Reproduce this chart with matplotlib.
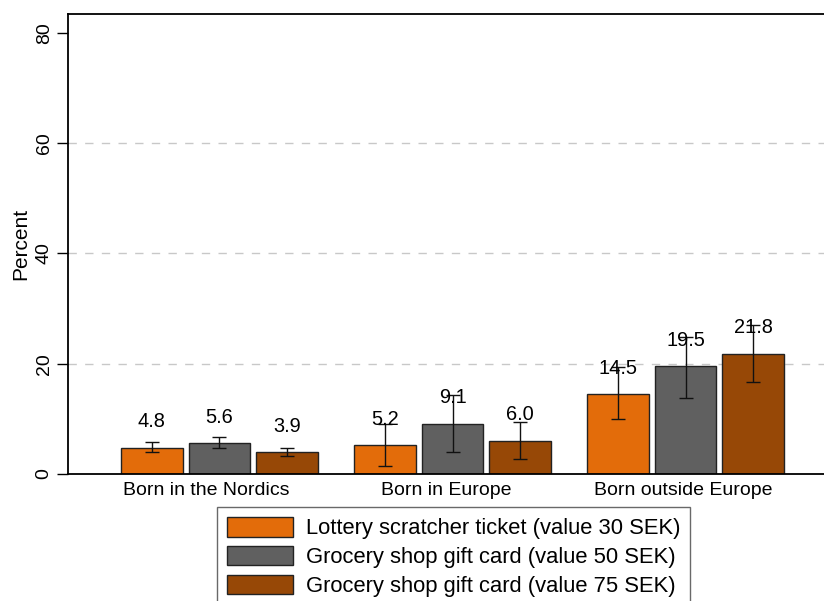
import numpy as np
import matplotlib.pyplot as plt

plt.rcParams['font.family'] = ['Liberation Sans', 'DejaVu Sans']

# ---------- data ----------
groups = ['Born in the Nordics', 'Born in Europe', 'Born outside Europe']
series = ['Lottery scratcher ticket (value 30 SEK)',
          'Grocery shop gift card (value 50 SEK)',
          'Grocery shop gift card (value 75 SEK)']
colors = ['#E36C0A', '#606060', '#974806']

lottery = [4.8, 5.2, 14.5]
gift50 = [5.6, 9.1, 19.5]
gift75 = [3.9, 6.0, 21.8]

# 95% CI bounds
lottery_lo = [4.0, 1.5, 9.9]
lottery_hi = [5.8, 9.1, 19.4]
gift50_lo = [4.7, 3.9, 13.7]
gift50_hi = [6.7, 14.3, 24.9]
gift75_lo = [3.3, 2.8, 16.7]
gift75_hi = [4.7, 9.5, 27.0]

values = [lottery, gift50, gift75]
lows = [lottery_lo, gift50_lo, gift75_lo]
highs = [lottery_hi, gift50_hi, gift75_hi]

# ---------- plot ----------
W, H = 824, 601
fig = plt.figure(figsize=(W / 100, H / 100), dpi=100)
ax = fig.add_axes([68 / W, (H - 474) / H, 769 / W, (474 - 14) / H])

x = np.arange(len(groups))
width = 0.264
pitch = 0.29

for i, (vals, lo, hi, c, lab) in enumerate(zip(values, lows, highs, colors, series)):
    pos = x + (i - 1) * pitch
    vals = np.array(vals)
    yerr = [vals - np.array(lo), np.array(hi) - vals]
    ax.bar(pos, vals, width, color=c, edgecolor='#222222', linewidth=1.0,
           label=lab, zorder=2)
    ax.errorbar(pos, vals, yerr=yerr, fmt='none', ecolor='#111111',
                elinewidth=1.0, capsize=5, capthick=1.0, zorder=3)
    for p, v in zip(pos, vals):
        ax.text(p, v + 4.7, f'{v:.1f}', ha='center', va='center',
                fontsize=14.4, zorder=4)

ax.set_xlim(-0.65, 2.65)
ax.set_ylim(0, 83.4)
ax.set_yticks([0, 20, 40, 60, 80])
ax.set_yticklabels(['0', '20', '40', '60', '80'], rotation=90, va='center',
                   fontsize=14)
# group labels sit a little left of the group centre (ticks are hidden)
ax.set_xticks(x + np.array([-0.056, -0.026, -0.008]))
ax.set_xticklabels(groups, fontsize=14)
ax.tick_params(axis='x', length=0, pad=6)
ax.tick_params(axis='y', length=8, width=1, pad=3)
ax.set_ylabel('Percent', fontsize=15, labelpad=4)

for y in [20, 40, 60]:
    ax.axhline(y, color='#c8c8c8', lw=1, dashes=(6, 6), zorder=1)

ax.spines['right'].set_visible(False)
for s in ['left', 'top', 'bottom']:
    ax.spines[s].set_linewidth(1.3)
    ax.spines[s].set_color('black')

handles, labels = ax.get_legend_handles_labels()
leg = fig.legend(handles, labels, loc='upper left',
                 bbox_to_anchor=(217 / W, 1 - 507 / H), fontsize=15.8,
                 frameon=True, fancybox=False, edgecolor='#444444',
                 handlelength=3.0, handleheight=1.0, labelspacing=0.3,
                 borderpad=0.45, handletextpad=0.6, borderaxespad=0)
leg.get_frame().set_linewidth(1.0)

fig.savefig('out.png', dpi=100)
